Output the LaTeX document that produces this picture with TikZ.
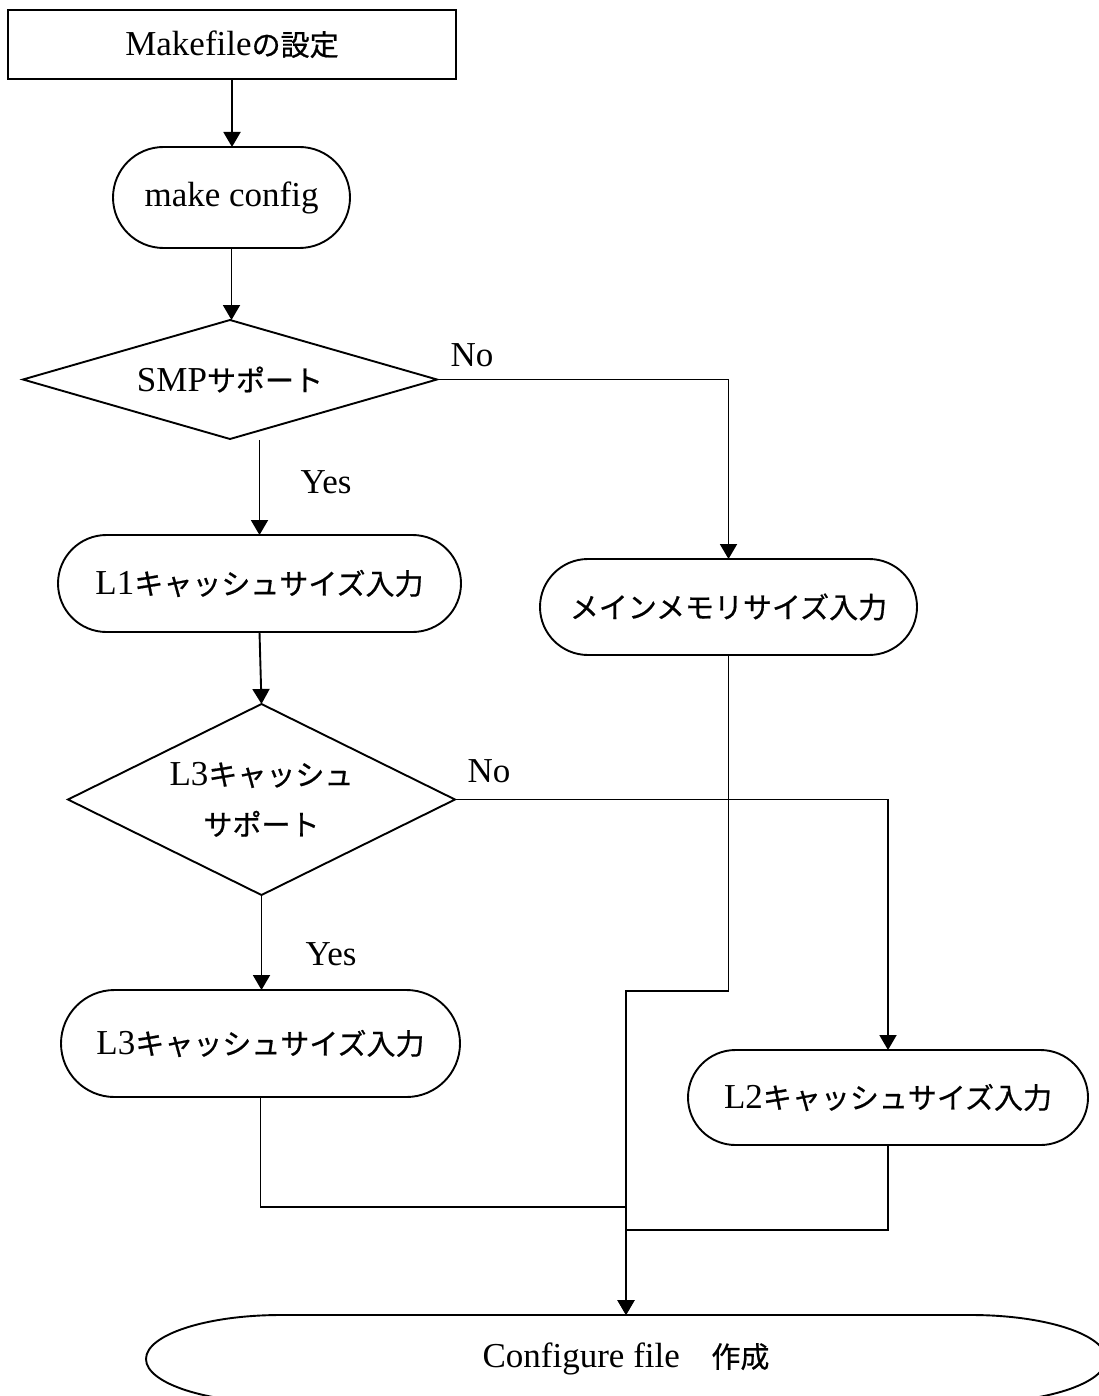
\documentclass[tikz,border=0pt]{standalone}
\usepackage{fontspec}
\setmainfont{Liberation Serif}
\newfontfamily\jpfont[FakeBold=0.6]{Noto Sans CJK JP}
\usetikzlibrary{shapes.misc,arrows.meta,calc}
\newcommand\ja[1]{{\jpfont\fontsize{14.5}{25}\selectfont #1}}

\begin{document}
\begin{tikzpicture}[x=0.5pt,y=-0.5pt,
  line width=0.95pt,
  every node/.style={font=\fontsize{17.5}{25}\selectfont, inner sep=0pt, outer sep=0pt},
  procbox/.style={draw, rectangle},
  termbox/.style={draw, rounded rectangle},
  plain/.style={rectangle},
  arr/.style={-{Triangle[length=7.5pt,width=8.5pt]}},
  lbl/.style={anchor=center}]

\useasboundingbox (0,0) rectangle (1098,1396);

% process steps
\node[procbox, minimum width=224pt, minimum height=34.5pt] (mk) at (232,44.5) {Makefile\ja{の設定}};
\node[termbox, minimum width=118.5pt, minimum height=50.5pt] (cfgcmd) at (231.5,197.5) {make config};
\node[termbox, minimum width=201.5pt, minimum height=48.5pt] (l1) at (259.5,583.5) {L1\ja{キャッシュサイズ入力}};
\node[termbox, minimum width=188.5pt, minimum height=48pt] (mem) at (728.5,607) {\ja{メインメモリサイズ入力}};
\node[termbox, minimum width=199.5pt, minimum height=53.5pt] (l3) at (260.5,1043.5) {L3\ja{キャッシュサイズ入力}};
\node[termbox, minimum width=200pt, minimum height=47.5pt] (l2) at (888,1097.5) {L2\ja{キャッシュサイズ入力}};

% decisions: diamonds drawn through the anchors of their boxes
\node[plain, minimum width=207pt, minimum height=59.5pt] (smp) at (230,379.5) {SMP\ja{サポート}};
\node[plain, minimum width=193.5pt, minimum height=95.5pt, align=center] (l3q) at (261.5,799.5) {L3\ja{キャッシュ}\\\ja{サポート}};
\foreach \d in {smp,l3q}
  \draw (\d.north) -- (\d.east) -- (\d.south) -- (\d.west) -- cycle;

% final step: long oval with elliptical ends
\node[plain, minimum width=480pt, minimum height=44pt] (out) at (626,1359) {Configure file\hspace{0.9em}\ja{作成}};
\draw ($(out.north west)+(135,0)$) -- ($(out.north east)+(-135,0)$)
  arc[start angle=90, end angle=-90, x radius=67.5pt, y radius=22pt]
  -- ($(out.south west)+(135,0)$)
  arc[start angle=270, end angle=90, x radius=67.5pt, y radius=22pt] -- cycle;

% branch labels
\node[lbl] (no1) at (472,355) {No};
\node[lbl] (yes1) at (326,482.5) {Yes};
\node[lbl] (no2) at (489,771) {No};
\node[lbl] (yes2) at (331,954.5) {Yes};

% connectors
\draw[arr] (mk.south) -- (mk.south |- cfgcmd.north);
\draw[arr] (cfgcmd.south) -- (cfgcmd.south |- smp.north);
\draw[arr] ($(smp.south -| l1.north)+(0,1)$) -- (l1.north);
\draw[arr] (smp.east) -| (mem.north);
\draw[arr] (l1.south) -- (l3q.north);
\draw[arr] (l3q.east) -| (l2.north);
\draw[arr] (l3q.south) -- (l3q.south |- l3.north);
\draw[arr] (mem.south) -- ++(0,336) -| (out.north);
\draw (l3.south) |- ($(out.north)+(0,-108)$);
\draw[arr] (l2.south) -- ++(0,85) -| (out.north);
\end{tikzpicture}
\end{document}
